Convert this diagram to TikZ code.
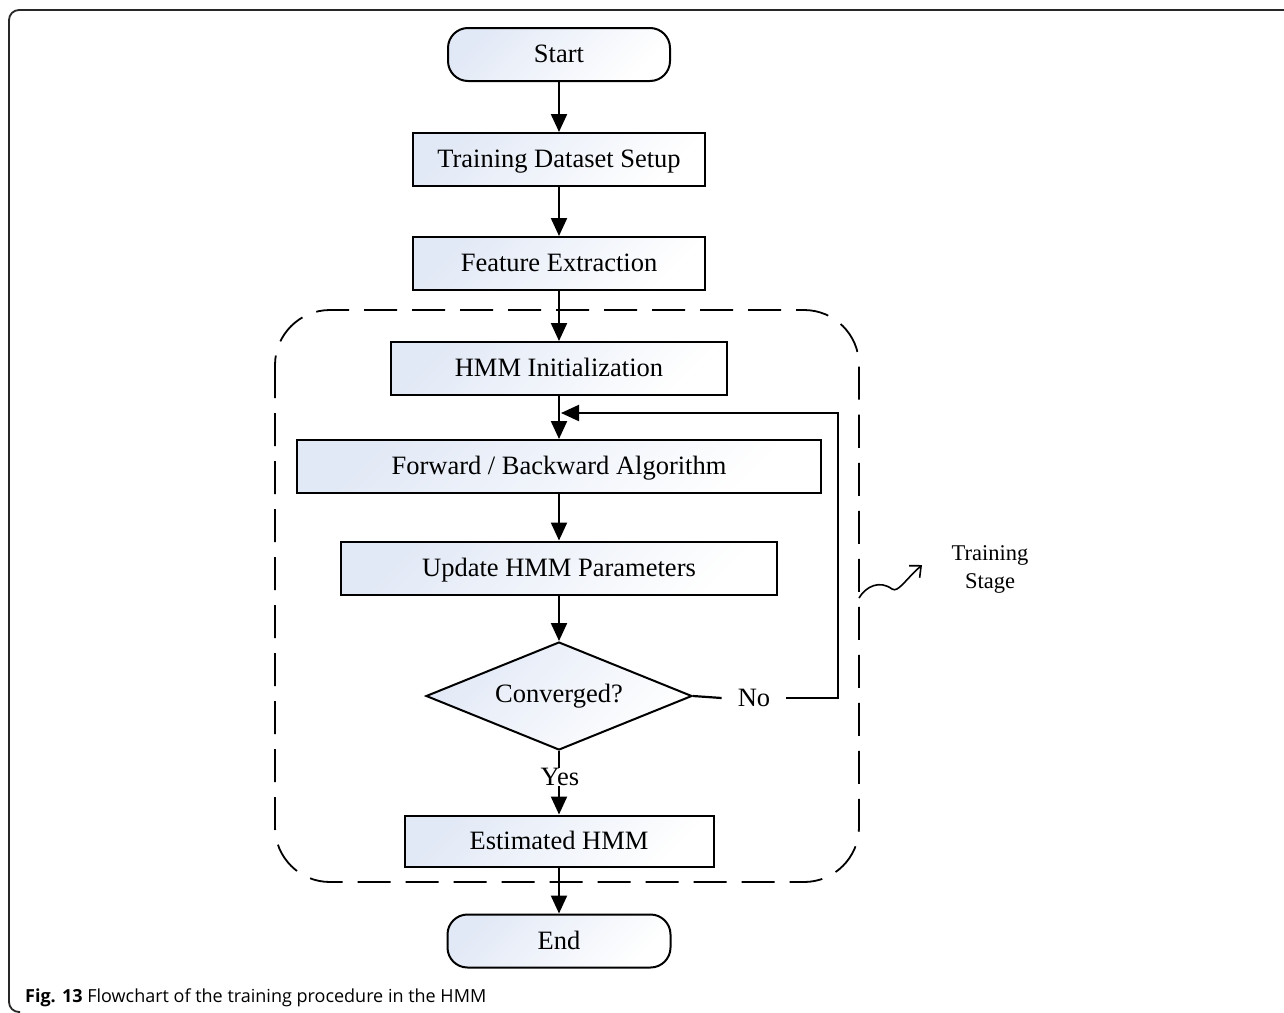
\documentclass[tikz,border=0pt]{standalone}
\usepackage{fontspec}
\setmainfont{Liberation Serif}
\newfontfamily\capfont{Open Sans}
\usetikzlibrary{arrows.meta,shapes.geometric}
\definecolor{boxfill}{RGB}{226,233,246}
\definecolor{framec}{RGB}{40,40,40}
\tikzset{
  stepbox/.style={draw=black, line width=2pt, minimum height=53pt, inner sep=0pt,
    text depth=2pt, top color=boxfill, bottom color=white, shading angle=45,
    font=\fontsize{26.5}{30}\selectfont},
  termbox/.style={stepbox, rounded corners=20pt},
  decbox/.style={draw=black, line width=2pt, diamond, aspect=2.46, inner sep=0pt,
    minimum width=266pt, minimum height=108pt,
    top color=boxfill, bottom color=white, shading angle=45,
    font=\fontsize{26.5}{30}\selectfont},
  flow/.style={line width=2.2pt, -{Triangle[length=18pt,width=16pt]}},
  plain/.style={line width=2.2pt},
  lbl/.style={font=\fontsize{26.5}{30}\selectfont, inner sep=0pt},
  slbl/.style={font=\fontsize{22.5}{28}\selectfont, align=center, inner sep=0pt},
}
\begin{document}
\begin{tikzpicture}[x=1pt,y=-1pt]
\useasboundingbox (0,0) rectangle (1284,1012);
% outer frame
\draw[framec, line width=1.8pt, rounded corners=10pt] (1290,10) -- (9,10) -- (9,1012) -- (20,1012);
% dashed training-stage region
\draw[line width=1.8pt, dash pattern=on 33pt off 15pt, rounded corners=55pt] (275,310) rectangle (859,882);

\node[termbox, minimum width=222pt] (start) at (559,54.5) {Start};
\node[stepbox, minimum width=292pt] (tds) at (559,159.5) {Training Dataset Setup};
\node[stepbox, minimum width=292pt] (fe) at (559,263.5) {Feature Extraction};
\node[stepbox, minimum width=336pt] (init) at (559,368.5) {HMM Initialization};
\node[stepbox, minimum width=524pt] (fb) at (559,466.5) {Forward / Backward Algorithm};
\node[stepbox, minimum width=436pt] (upd) at (559,568) {Update HMM Parameters};
\node[decbox] (conv) at (559,696) {Converged?};
\node[lbl] (no) at (754,698) {No};
\node[lbl] (yes) at (560,777) {Yes};
\node[stepbox, minimum width=309pt, minimum height=51pt] (est) at (559,841) {Estimated HMM};
\node[termbox, minimum width=223pt] (end) at (559,941) {End};
\node[slbl] (ts) at (990,569) {Training\\Stage};

\coordinate (loopR) at (838,698);
\coordinate (loopT) at (838,413);
\coordinate (join) at (561,413);
\coordinate (wavS) at (859,598);
\coordinate (wavE) at (922,565);

\draw[flow] (start) -- (tds);
\draw[flow] (tds) -- (fe);
\draw[flow] (fe) -- (init);
\draw[flow] (init) -- (fb);
\draw[flow] (fb) -- (upd);
\draw[flow] (upd) -- (conv);
\draw[plain] (conv.south) -- (conv.south |- yes.north);
\draw[flow] (est.north |- yes.south) -- (est.north);
\draw[flow] (est) -- (end);
\draw[plain] (conv.east) -- ([xshift=-16pt]no.west);
\draw[flow] ([xshift=16pt]no.east) -- (loopR) -- (loopT) -- (join);
\draw[line width=1.6pt, -{Straight Barb[length=9pt,width=16pt]}] (wavS) .. controls (866,586) and (880,580) .. (892,589) .. controls (898,593) and (905,580) .. (wavE);

\node[anchor=west, inner sep=0pt, font=\capfont\fontsize{18}{20}\selectfont] (cap) at (25,998) {\textbf{Fig. 13} Flowchart of the training procedure in the HMM};
\end{tikzpicture}
\end{document}
